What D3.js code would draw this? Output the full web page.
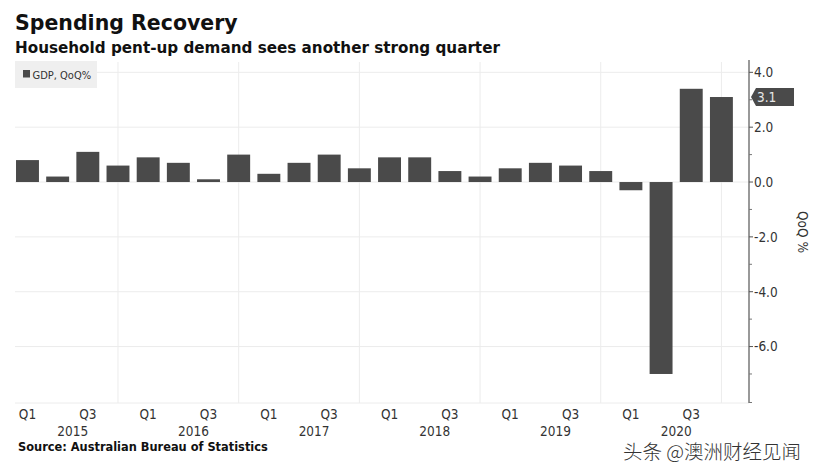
<!DOCTYPE html>
<html>
<head>
<meta charset="utf-8">
<script src="https://cdn.jsdelivr.net/npm/d3@7"></script>
<style>
 body{margin:0;background:#fff;}
 svg{display:block;}
</style>
</head>
<body>
<svg id="chart" width="832" height="472"></svg>
<script>
// quarters 2015 Q1 .. 2020 Q4
var years=["2015","2016","2017","2018","2019","2020"];
var quarterNames=["Q1","Q2","Q3","Q4"];
var gdp=[0.8,0.2,1.1,0.6, 0.9,0.7,0.1,1.0, 0.3,0.7,1.0,0.5, 0.9,0.9,0.4,0.2, 0.5,0.7,0.6,0.4, -0.3,-7.0,3.4,3.1];
var majorTicks=[-6,-4,-2,0,2,4];
var minorTicks=[-8,-7,-5,-3,-1,1,3];

var quarters=[];
years.forEach(function(y){quarterNames.forEach(function(q){quarters.push(y+" "+q);});});
var rows=quarters.map(function(k,i){return {key:k,year:k.slice(0,4),q:k.slice(5),v:gdp[i]};});

var svg=d3.select("#chart");
var font="'DejaVu Sans Condensed','DejaVu Sans',sans-serif";
var plotL=15,plotR=749,plotT=60,plotB=403;

var x=d3.scaleBand().domain(quarters).range([12.4,736.5]).paddingInner(0.24).paddingOuter(0.12);
var y=d3.scaleLinear().domain([-8,4.45]).range([401.4,60]);

// titles
svg.append("text").attr("x",15).attr("y",30).attr("font-family","'DejaVu Sans',sans-serif").attr("font-weight","bold").attr("font-size",20.5).attr("fill","#111").text("Spending Recovery");
svg.append("text").attr("x",15).attr("y",53).attr("font-family","'DejaVu Sans',sans-serif").attr("font-weight","bold").attr("font-size",15.2).attr("fill","#111").text("Household pent-up demand sees another strong quarter");

// grid
var g=svg.append("g");
g.selectAll("line.h").data(majorTicks).enter().append("line")
 .attr("x1",plotL).attr("x2",plotR).attr("y1",function(d){return y(d);}).attr("y2",function(d){return y(d);})
 .attr("stroke","#ececec").attr("stroke-width",1);
g.append("line").attr("x1",plotL).attr("x2",plotR).attr("y1",plotB).attr("y2",plotB).attr("stroke","#ececec");
g.selectAll("line.v").data(rows.filter(function(d){return d.q==="Q4";})).enter().append("line")
 .attr("x1",function(d){return x(d.key)+x.bandwidth()/2;}).attr("x2",function(d){return x(d.key)+x.bandwidth()/2;})
 .attr("y1",plotT+2).attr("y2",plotB).attr("stroke","#ececec").attr("stroke-width",1);

// legend
svg.append("rect").attr("x",15).attr("y",61).attr("width",82).attr("height",27).attr("fill","#efefef");
svg.append("rect").attr("x",23).attr("y",70).attr("width",7).attr("height",7.5).attr("fill","#4a4a4a");
svg.append("text").attr("x",32.5).attr("y",78.5).attr("font-family",font).attr("font-size",11).attr("fill","#333").text("GDP, QoQ%");

// bars
svg.append("g").selectAll("rect").data(rows).enter().append("rect")
 .attr("x",function(d){return x(d.key);})
 .attr("width",x.bandwidth())
 .attr("y",function(d){return y(Math.max(0,d.v));})
 .attr("height",function(d){return Math.abs(y(d.v)-y(0));})
 .attr("fill","#4a4a4a");

// right axis
var ax=svg.append("g");
ax.append("line").attr("x1",plotR).attr("x2",plotR).attr("y1",plotT).attr("y2",plotB).attr("stroke","#555").attr("stroke-width",1.2);
ax.selectAll("line.mj").data(majorTicks).enter().append("line")
 .attr("x1",plotR).attr("x2",plotR+4).attr("y1",function(d){return y(d);}).attr("y2",function(d){return y(d);}).attr("stroke","#555");
ax.selectAll("line.mn").data(minorTicks).enter().append("line")
 .attr("x1",plotR).attr("x2",plotR+3).attr("y1",function(d){return d===-8?plotB-0.5:y(d);}).attr("y2",function(d){return d===-8?plotB-0.5:y(d);}).attr("stroke","#777");
ax.selectAll("text").data(majorTicks).enter().append("text")
 .attr("x",plotR+5).attr("y",function(d){return y(d);}).attr("dy","0.36em")
 .attr("font-family",font).attr("font-size",13.5).attr("fill","#333")
 .text(function(d){return d3.format(".1f")(d).replace("−","-");});
svg.append("text").attr("transform","translate(798,232) rotate(90)").attr("text-anchor","middle")
 .attr("font-family",font).attr("font-size",13.5).attr("fill","#333").text("QoQ %");

// last value tag
var last=rows[rows.length-1], ly=y(last.v);
svg.append("path").attr("d","M"+(plotR+2)+","+ly+"L"+(plotR+7)+","+(ly-9)+"L"+794+","+(ly-9)+"L"+794+","+(ly+9)+"L"+(plotR+7)+","+(ly+9)+"Z").attr("fill","#4a4a4a");
svg.append("text").attr("x",plotR+8).attr("y",ly).attr("dy","0.36em").attr("font-family",font).attr("font-size",13.5).attr("fill","#e6e6e6").text(d3.format(".1f")(last.v));

// x axis labels
svg.append("g").selectAll("text").data(rows.filter(function(d){return d.q==="Q1"||d.q==="Q3";})).enter().append("text")
 .attr("x",function(d){return x(d.key)+x.bandwidth()/2;}).attr("y",418.5).attr("text-anchor","middle")
 .attr("font-family",font).attr("font-size",13.5).attr("fill","#333").text(function(d){return d.q;});
svg.append("g").selectAll("text").data(years).enter().append("text")
 .attr("x",function(d){return (x(d+" Q2")+x(d+" Q3")+x.bandwidth())/2;}).attr("y",436).attr("text-anchor","middle")
 .attr("font-family",font).attr("font-size",13.5).attr("fill","#333").text(function(d){return d;});

// source + watermark
svg.append("text").attr("x",18).attr("y",451).attr("font-family","'DejaVu Sans',sans-serif").attr("font-weight","bold").attr("font-size",11.4).attr("fill","#111").text("Source: Australian Bureau of Statistics");
svg.append("text").attr("x",623).attr("y",458.5).attr("font-family","'Noto Sans CJK SC',sans-serif").attr("font-weight",300).attr("font-size",19.5).attr("fill","#333").text("头条 @澳洲财经见闻");
</script>
</body>
</html>
